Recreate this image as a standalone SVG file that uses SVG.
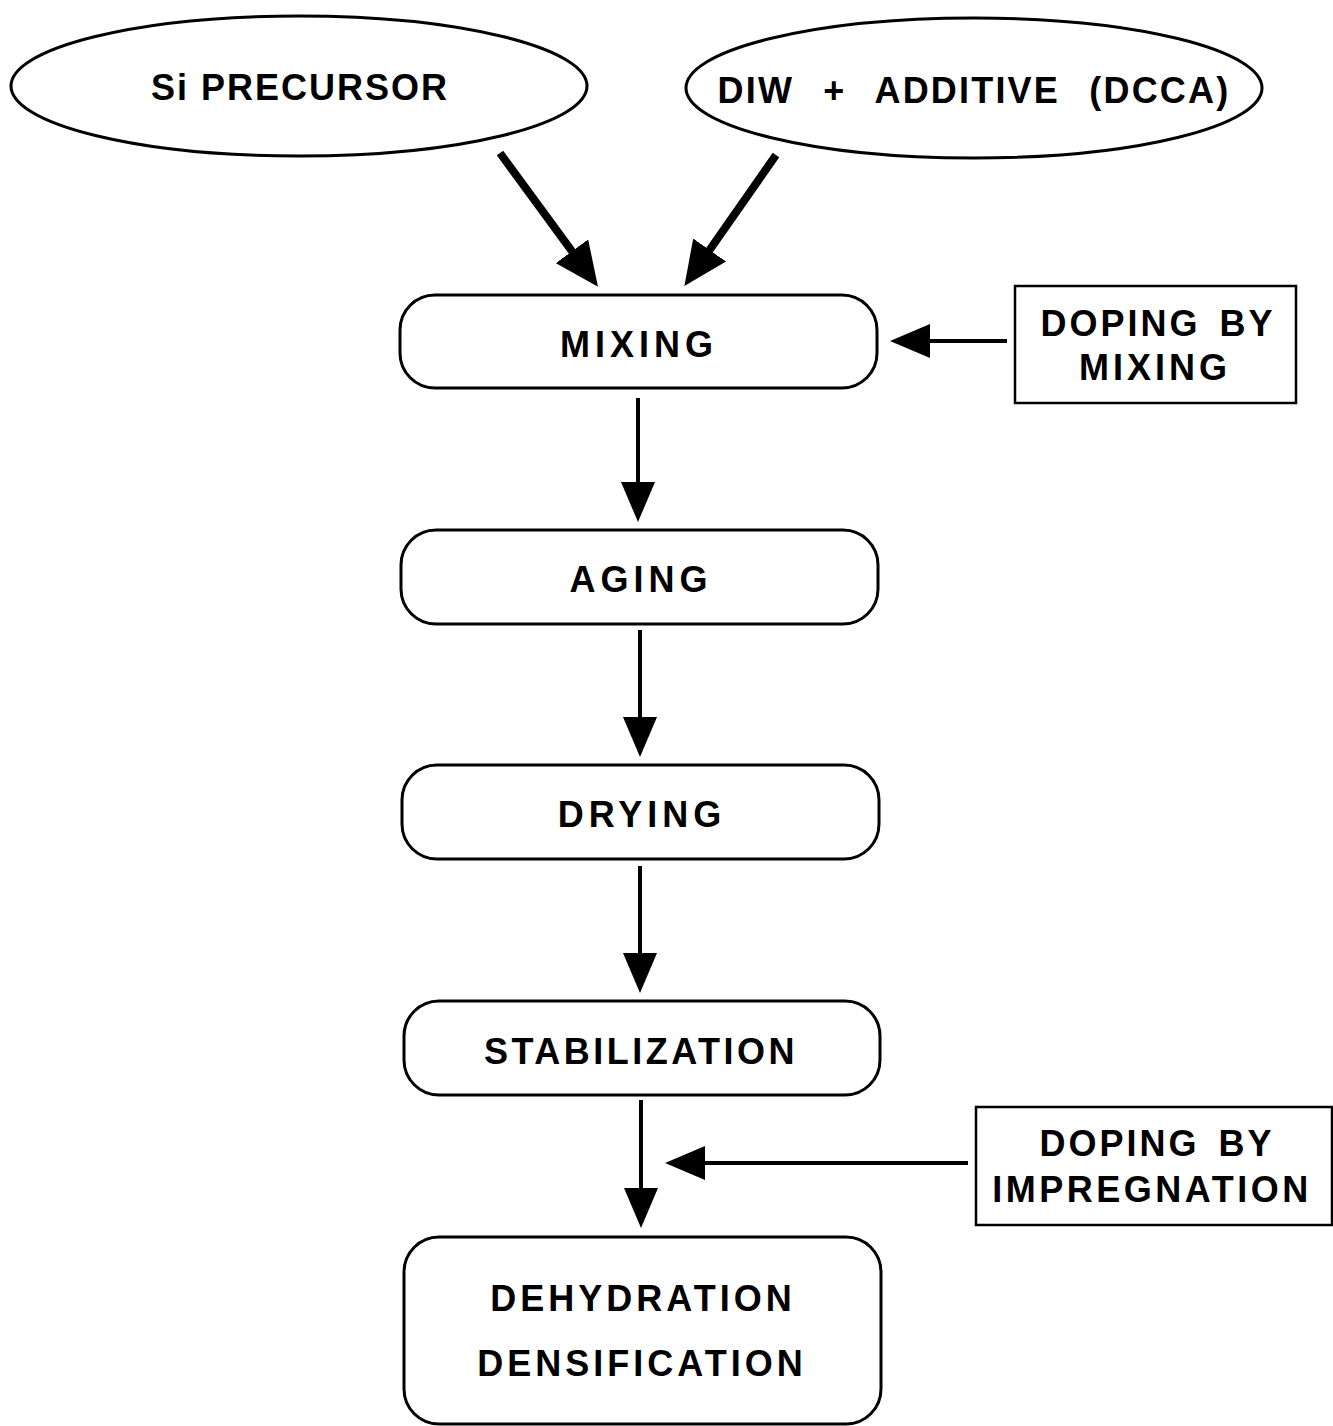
<svg xmlns="http://www.w3.org/2000/svg" width="1333" height="1426" viewBox="0 0 1333 1426">
<style>
.shape{fill:#fff;stroke:#000;stroke-width:3}
.t{font-family:"Liberation Sans",Arial,sans-serif;font-weight:bold;font-size:36px;fill:#000;text-anchor:middle}
.ln{stroke:#000;stroke-width:4;fill:none}
.thick{stroke-width:8}
</style>
<defs>
<marker id="ah" viewBox="0 0 40 34" refX="20" refY="17" markerWidth="40" markerHeight="34" markerUnits="userSpaceOnUse" orient="auto">
<path d="M0,0 L40,17 L0,34 z" fill="#000"/>
</marker>
<marker id="ahb" viewBox="0 0 44 40" refX="22" refY="20" markerWidth="44" markerHeight="40" markerUnits="userSpaceOnUse" orient="auto">
<path d="M0,0 L44,20 L0,40 z" fill="#000"/>
</marker>
</defs>
<rect width="1333" height="1426" fill="#fff"/>
<g id="si-precursor">
<ellipse class="shape" cx="299" cy="86" rx="288" ry="70"/>
<text class="t" x="300" y="100" letter-spacing="2">Si PRECURSOR</text>
</g>
<g id="diw-additive">
<ellipse class="shape" cx="974" cy="88" rx="288" ry="70"/>
<text class="t" x="974" y="103" letter-spacing="2.2" word-spacing="17">DIW + ADDITIVE (DCCA)</text>
</g>
<g id="mixing">
<rect class="shape" x="400" y="295" width="477" height="93" rx="35"/>
<text class="t" x="639" y="357" letter-spacing="5">MIXING</text>
</g>
<g id="aging">
<rect class="shape" x="401" y="530" width="477" height="94" rx="35"/>
<text class="t" x="641" y="592" letter-spacing="5">AGING</text>
</g>
<g id="drying">
<rect class="shape" x="402" y="765" width="477" height="94" rx="35"/>
<text class="t" x="642" y="827" letter-spacing="5">DRYING</text>
</g>
<g id="stabilization">
<rect class="shape" x="404" y="1001" width="476" height="94" rx="35"/>
<text class="t" x="641" y="1064" letter-spacing="3.5">STABILIZATION</text>
</g>
<g id="dehydration">
<rect class="shape" x="404" y="1237" width="477" height="187" rx="35"/>
<text class="t" x="643" y="1311" letter-spacing="4">DEHYDRATION</text>
<text class="t" x="642" y="1376" letter-spacing="4">DENSIFICATION</text>
</g>
<g id="doping-mixing">
<rect x="1015" y="286" width="281" height="117" fill="#fff" stroke="#000" stroke-width="2.5"/>
<text class="t" x="1158" y="336" letter-spacing="3" word-spacing="6">DOPING BY</text>
<text class="t" x="1155" y="380" letter-spacing="4">MIXING</text>
</g>
<g id="doping-impregnation">
<rect x="976" y="1107" width="356" height="118" fill="#fff" stroke="#000" stroke-width="2.5"/>
<text class="t" x="1157" y="1156" letter-spacing="3" word-spacing="6">DOPING BY</text>
<text class="t" x="1152" y="1202" letter-spacing="3.5">IMPREGNATION</text>
</g>
<g id="connectors">
<line class="ln thick" x1="500" y1="153" x2="585" y2="269" marker-end="url(#ahb)"/>
<line class="ln thick" x1="776" y1="155" x2="697" y2="268" marker-end="url(#ahb)"/>
<line class="ln" x1="638" y1="398" x2="638" y2="502" marker-end="url(#ah)"/>
<line class="ln" x1="640" y1="630" x2="640" y2="737" marker-end="url(#ah)"/>
<line class="ln" x1="640" y1="866" x2="640" y2="973" marker-end="url(#ah)"/>
<line class="ln" x1="641" y1="1100" x2="641" y2="1208" marker-end="url(#ah)"/>
<line class="ln" x1="1007" y1="341" x2="910" y2="341" marker-end="url(#ah)"/>
<line class="ln" x1="968" y1="1163" x2="685" y2="1163" marker-end="url(#ah)"/>
</g>
</svg>
